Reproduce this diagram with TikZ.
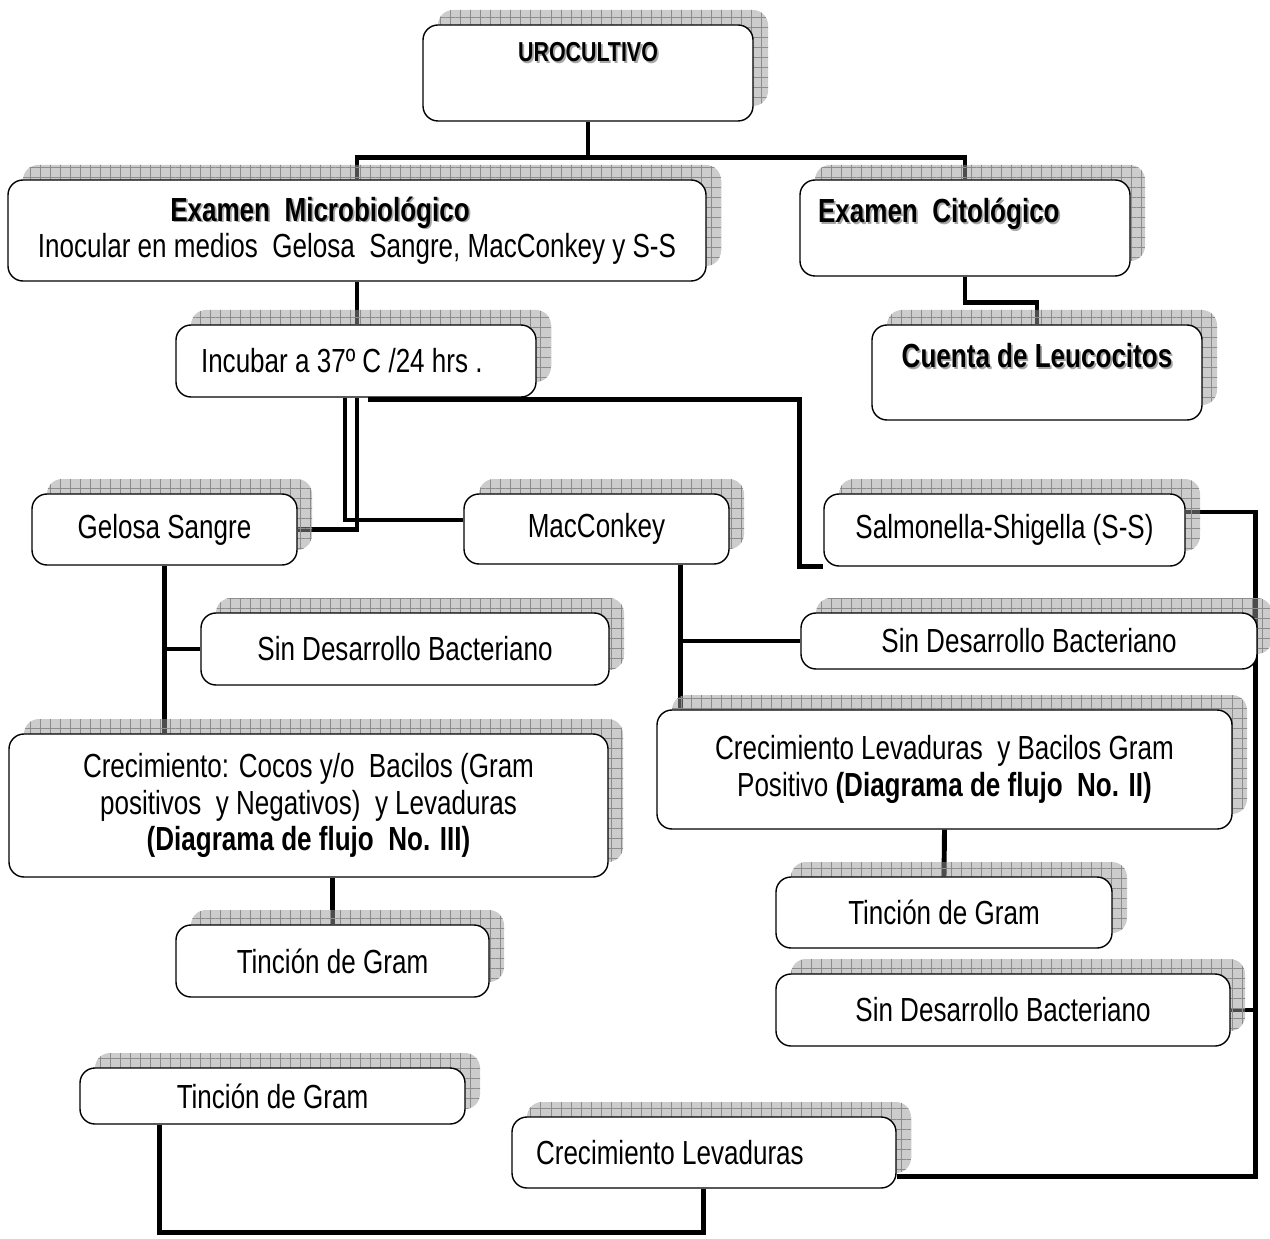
\documentclass[tikz,border=0pt]{standalone}
\usepackage{fontspec}
\setmainfont{Liberation Sans}[FakeStretch=0.78]
\usetikzlibrary{shadows, calc, backgrounds, patterns.meta}

\newcommand{\boldshade}[1]{\makebox[0pt][l]{\hspace{1pt}\raisebox{-1pt}{\textcolor{black!35}{#1}}}#1}

\tikzset{
    box/.style={draw, fill=white, rounded corners=0.3cm, line width=0.8pt,
        inner sep=0pt, align=center, font=\fontsize{19}{20.7}\selectfont,
        copy shadow={shadow xshift=0.3cm, shadow yshift=0.3cm, draw=none,
            fill=black!40, fill opacity=0.5,
            postaction={pattern={Hatch[angle=0, distance=5.7pt, line width=0.35pt]},
                pattern color=black!45, fill opacity=0.5}}},
    boxsize/.style 2 args={minimum width=#1*0.02cm, minimum height=#2*0.02cm},
    conn/.style={line width=2.8pt},
}

\begin{document}
\begin{tikzpicture}[x=0.02cm, y=-0.02cm]
    \useasboundingbox (0,0) rectangle (1270,1239);

    % --- Urocultivo y examenes ---
    \node[box, boxsize={330}{96}, text height=0.74cm, text depth=1.18cm,
        font=\fontsize{15.6}{18}\selectfont] (uro) at (588,73) {\boldshade{\textbf{UROCULTIVO}}};
    \node[box, boxsize={698}{101}] (micro) at (357,230.5)
        {\boldshade{\textbf{Examen~~Microbiológico}}\hspace*{1.48cm}\\
         Inocular en medios~~Gelosa~~Sangre, MacConkey y S-S};
    \node[box, boxsize={330}{96}, text width=5.88cm, inner xsep=0.36cm, align=flush left,
        text height=0.86cm, text depth=1.06cm] (cito) at (965,228) {\boldshade{\textbf{Examen~~Citológico}}};
    \node[box, boxsize={360}{72}, text width=6.2cm, inner xsep=0.5cm, align=flush left] (incub) at (356,361)
        {Incubar a 37º C /24 hrs .};
    \node[box, boxsize={330}{95}, text height=0.86cm, text depth=1.04cm] (cuenta) at (1037,372.5)
        {\boldshade{\textbf{Cuenta de Leucocitos}}};

    % --- Medios de cultivo ---
    \node[box, boxsize={265}{71}] (gelosa) at (164.5,529.5) {Gelosa Sangre};
    \node[box, boxsize={265}{70}] (mac) at (596.5,529) {MacConkey};
    \node[box, boxsize={361}{72}] (salm) at (1004.5,530) {Salmonella-Shigella (S-S)};

    % --- Resultados ---
    \node[box, boxsize={408}{72}] (sinA) at (405,649) {Sin Desarrollo Bacteriano};
    \node[box, boxsize={456}{56}] (sinB) at (1029,641) {Sin Desarrollo Bacteriano};
    \node[box, boxsize={599}{143}] (crecA) at (308.5,805.5)
        {Crecimiento: Cocos y/o~~Bacilos (Gram\\
         positivos~~y Negativos)~~y Levaduras\\
         \textbf{(Diagrama de flujo~~No. III)}};
    \node[box, boxsize={575}{119}] (crecB) at (944.5,769.5)
        {Crecimiento Levaduras~~y Bacilos Gram\\
         Positivo \textbf{(Diagrama de flujo~~No. II)}};
    \node[box, boxsize={313}{72}] (tinA) at (332.5,961) {Tinción de Gram};
    \node[box, boxsize={336}{71}] (tinB) at (944,912.5) {Tinción de Gram};
    \node[box, boxsize={454}{72}] (sinC) at (1003,1010) {Sin Desarrollo Bacteriano};
    \node[box, boxsize={385}{56}] (tinC) at (272.5,1096) {Tinción de Gram};
    \node[box, boxsize={384}{71}, text width=6.72cm, inner xsep=0.48cm, align=flush left] (levad) at (704,1152.5)
        {Crecimiento Levaduras};

    % --- Conectores ---
    \begin{scope}[on background layer]
        \coordinate (ujoin) at ($(uro.south)+(0,36)$);
        \draw[conn] (uro.south) -- (ujoin);
        \draw[conn] (micro.north) |- (ujoin) -| (cito.north);
        \draw[conn] (cito.south) -- ++(0,26) -| (cuenta.north);
        \draw[conn] (micro.south) -- (micro.south |- incub.north);

        % incubacion a los medios
        \draw[conn] (micro.south |- incub.south) |- (gelosa.east);
        \draw[conn] ($(micro.south |- incub.south)+(-12,0)$) |- ($(mac.west)+(0,-9)$);
        \draw[conn] ($(incub.south west)+(193,2)$) -| ($(salm.south west)+(-24,0)$) -- (salm.south west);
        \draw[conn] ($(salm.east)+(0,-18)$) -- ++(70,0) |- ($(levad.east)+(0,24)$);
        \draw[conn] (sinC.east) -- ++(25,0);

        % gelosa sangre
        \draw[conn] (gelosa.south) -- (gelosa.south |- crecA.north);
        \draw[conn] (gelosa.south |- sinA.west) -- (sinA.west);
        \draw[conn] (crecA.south -| tinA.north) -- (tinA.north);

        % macconkey
        \coordinate (macdrop) at ($(mac.south)+(84,0)$);
        \draw[conn] (macdrop) -- (macdrop |- crecB.north);
        \draw[conn] (macdrop |- sinB.west) -- (sinB.west);
        \draw[conn] (crecB.south) -- (tinB.north);

        % tincion y levaduras
        \draw[conn] ($(tinC.south west)+(80,0)$) -- ++(0,108) -| ($(levad.south west)+(192,0)$);
    \end{scope}

\end{tikzpicture}
\end{document}
